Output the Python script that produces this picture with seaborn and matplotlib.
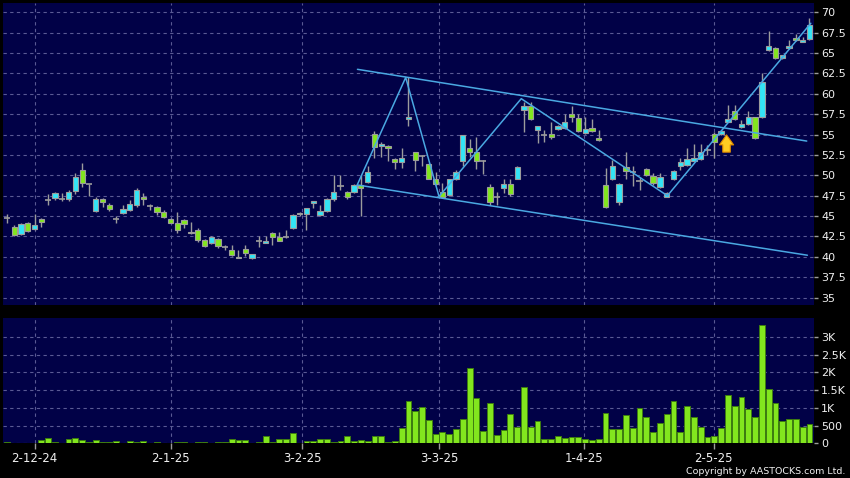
import numpy as np
import pandas as pd
import matplotlib
matplotlib.use("Agg")
import matplotlib.pyplot as plt
import seaborn as sns

# daily bars, oldest first (one entry per trading day)
opens = [44.8, 43.7, 42.8, 44.1, 43.4, 44.6, 47.0, 47.2, 47.1, 47.1,
         48.1, 50.7, 48.9, 45.6, 47.1, 46.3, 44.6, 45.4, 45.7, 46.3,
         47.3, 46.2, 46.1, 45.55, 44.6, 44.2, 44.5, 43.1, 43.3, 42.1,
         41.7, 42.2, 41.2, 40.8, 40.0, 41.0, 39.8, 42.0, 41.75, 42.9,
         42.4, 42.4, 43.5, 45.4, 45.2, 46.6, 45.1, 45.6, 47.15, 48.7,
         48.0, 47.9, 48.8, 49.2, 55.1, 53.6, 53.6, 52.0, 51.6, 56.9,
         52.8, 52.4, 51.4, 49.6, 47.9, 47.6, 49.5, 51.7, 53.4, 52.9,
         51.8, 48.6, 47.3, 48.5, 48.9, 49.6, 58.0, 58.45, 55.5, 55.0,
         55.1, 55.7, 55.8, 57.55, 57.05, 55.2, 55.8, 54.6, 48.85, 49.55,
         46.7, 51.0, 50.4, 49.3, 50.8, 49.9, 48.6, 47.4, 49.55, 51.2,
         51.3, 51.7, 52.0, 53.05, 55.1, 55.05, 56.6, 57.9, 55.9, 56.3,
         57.1, 57.1, 65.4, 65.6, 64.4, 65.6, 66.85, 66.4, 66.7]
highs = [45.3, 43.9, 44.1, 44.3, 45.2, 44.8, 47.7, 48.0, 47.8, 48.2,
         50.3, 51.5, 48.9, 47.4, 47.2, 46.6, 45.0, 46.3, 47.0, 48.4,
         47.8, 46.5, 46.2, 45.7, 44.8, 45.5, 44.6, 44.3, 43.6, 42.2,
         42.5, 42.3, 41.5, 41.5, 40.8, 41.4, 40.4, 42.5, 42.5, 43.0,
         43.1, 43.3, 45.2, 45.5, 46.0, 46.9, 46.4, 47.2, 50.05, 50.05,
         48.1, 48.9, 50.05, 51.1, 55.4, 54.1, 53.7, 52.1, 53.3, 62.0,
         52.9, 52.5, 51.5, 50.4, 49.0, 49.6, 50.7, 55.0, 54.5, 54.7,
         51.9, 48.9, 48.0, 49.5, 49.5, 51.1, 59.0, 59.0, 56.1, 55.5,
         56.5, 56.2, 57.5, 58.5, 57.5, 57.2, 56.9, 55.6, 50.9, 51.9,
         49.0, 52.9, 51.1, 49.8, 50.9, 50.3, 50.3, 47.9, 50.6, 52.1,
         53.3, 53.9, 53.9, 53.7, 55.3, 55.5, 58.6, 58.6, 56.8, 57.9,
         57.2, 62.5, 67.7, 65.7, 64.8, 66.6, 67.3, 67.0, 69.3]
lows = [44.2, 42.6, 42.7, 43.1, 43.3, 43.7, 46.4, 47.0, 46.8, 46.9,
        47.7, 48.6, 47.5, 45.5, 46.1, 45.6, 44.1, 45.3, 45.6, 46.1,
        46.3, 45.8, 45.1, 44.8, 44.1, 42.9, 43.6, 42.8, 41.8, 41.2,
        41.6, 41.1, 40.8, 40.1, 39.8, 40.1, 39.7, 41.2, 41.7, 41.5,
        41.9, 42.3, 43.4, 45.0, 43.3, 45.95, 45.0, 45.5, 46.8, 48.2,
        47.1, 47.8, 45.0, 49.1, 52.1, 52.2, 51.7, 50.8, 50.9, 56.0,
        50.5, 51.1, 49.5, 48.85, 47.3, 47.5, 49.4, 51.2, 52.3, 50.8,
        50.2, 46.4, 46.4, 47.8, 47.5, 49.5, 55.3, 56.8, 54.0, 54.1,
        54.5, 55.6, 55.7, 56.5, 55.3, 55.1, 55.3, 54.2, 46.0, 49.4,
        46.3, 49.5, 48.7, 48.2, 49.9, 48.8, 48.5, 47.3, 49.4, 50.7,
        51.2, 51.6, 51.9, 52.5, 52.1, 54.9, 56.5, 56.8, 55.8, 56.2,
        54.5, 57.0, 65.3, 64.3, 64.3, 65.5, 66.5, 66.3, 66.6]
closes = [44.8, 42.7, 44.0, 43.2, 43.9, 44.3, 47.0, 47.8, 47.1, 47.9,
          49.8, 49.1, 48.9, 47.1, 46.7, 45.9, 44.6, 45.9, 46.5, 48.2,
          47.1, 46.2, 45.5, 44.9, 44.2, 43.3, 44.0, 42.9, 42.1, 41.3,
          42.4, 41.3, 41.2, 40.2, 39.9, 40.5, 40.3, 42.0, 42.0, 42.4,
          42.0, 42.4, 45.1, 45.2, 45.95, 46.8, 45.6, 47.1, 47.9, 48.7,
          47.4, 48.8, 48.5, 50.4, 53.5, 53.8, 53.3, 51.6, 52.1, 57.1,
          51.9, 52.4, 49.6, 48.9, 47.4, 49.5, 50.45, 54.9, 52.8, 51.8,
          51.8, 46.7, 47.3, 48.9, 47.7, 51.0, 58.5, 56.9, 56.0, 55.0,
          54.7, 56.0, 56.6, 57.2, 55.4, 55.7, 55.4, 54.3, 46.15, 51.1,
          48.9, 50.5, 50.4, 49.3, 50.1, 49.1, 49.8, 47.8, 50.5, 51.6,
          52.0, 52.15, 52.8, 53.05, 54.1, 55.4, 56.9, 56.9, 56.3, 57.1,
          54.6, 61.5, 65.9, 64.4, 64.7, 65.9, 66.6, 66.6, 68.4]
volumes = [46, 20, 20, 20, 20, 83, 139, 37, 10, 111,
           148, 83, 46, 93, 28, 28, 56, 20, 74, 46,
           65, 10, 46, 5, 5, 28, 28, 10, 28, 28,
           10, 46, 46, 111, 83, 83, 10, 37, 204, 37,
           111, 111, 296, 15, 65, 65, 111, 111, 37, 65,
           194, 74, 83, 74, 194, 194, 28, 56, 444, 1194,
           898, 1018, 648, 263, 319, 263, 394, 675, 2110, 1266,
           347, 1126, 234, 375, 816, 450, 1595, 469, 619, 113,
           113, 206, 150, 188, 188, 131, 84, 122, 863, 403,
           403, 788, 441, 1004, 732, 328, 582, 825, 1200, 319,
           1041, 732, 450, 188, 216, 422, 1351, 1041, 1294, 966,
           741, 3320, 1520, 1144, 638, 685, 675, 460, 544]

date_labels = ["2-12-24", "2-1-25", "3-2-25", "3-3-25", "1-4-25", "2-5-25"]
date_pos = [4, 24, 43.4, 63.5, 84.8, 103.9]

price_ticks = [35, 37.5, 40, 42.5, 45, 47.5, 50, 52.5, 55, 57.5, 60, 62.5, 65, 67.5, 70]
vol_ticks = [0, 500, 1000, 1500, 2000, 2500, 3000]
vol_labels = ["0", "500", "1K", "1.5K", "2K", "2.5K", "3K"]

# drawn annotations, as (bar index, price)
upper_x, upper_y = [51.5, 117.6], [63.0, 54.2]
lower_x, lower_y = [51.6, 117.7], [48.8, 40.2]
zigzag_x = [51.4, 58.6, 63.5, 75.6, 97.1, 118.2]
zigzag_y = [48.7, 62.0, 47.4, 59.4, 47.5, 68.65]
arrow_x, arrow_lo, arrow_hi = 105.8, 52.5, 55.3

NAVY = "#010147"
GRID = "#5a5a94"
CYAN = "#33e4f6"
GREEN = "#82e61e"
WICK = "#9c9c9c"
LINE = "#4aa8e2"
TXT = "#f0f0f0"

sns.set_theme(style="dark")
plt.rcParams["font.family"] = ["DejaVu Sans"]

df = pd.DataFrame({"open": opens, "high": highs, "low": lows,
                   "close": closes, "volume": volumes})
df["idx"] = np.arange(len(df))

fig = plt.figure(figsize=(8.5, 4.78), dpi=100, facecolor="black")
ax = fig.add_axes([0.0039, 0.362, 0.954, 0.632])
vax = fig.add_axes([0.0039, 0.0726, 0.954, 0.2615])

for a in (ax, vax):
    a.set_facecolor(NAVY)
    for s in a.spines.values():
        s.set_visible(False)
    a.grid(True, color=GRID, ls=(0, (3, 3)), lw=0.8)
    a.set_axisbelow(True)

# candles
ax.vlines(df["idx"], df["low"], df["high"], color=WICK, lw=1, zorder=2)
up = df[df["close"] > df["open"]]
dn = df[df["close"] < df["open"]]
flat = df[df["close"] == df["open"]]
for sub, col in ((up, CYAN), (dn, GREEN)):
    ax.bar(sub["idx"], (sub["close"] - sub["open"]).abs(),
           bottom=sub[["open", "close"]].min(axis=1), width=0.78,
           color=col, edgecolor=WICK, lw=0.8, zorder=3)
ax.hlines(flat["close"], flat["idx"] - 0.45, flat["idx"] + 0.45,
          color=WICK, lw=1.2, zorder=3)

# trend lines and arrow
ax.plot(upper_x, upper_y, color=LINE, lw=1.1, zorder=4)
ax.plot(lower_x, lower_y, color=LINE, lw=1.1, zorder=4)
ax.plot(zigzag_x, zigzag_y, color=LINE, lw=1.1, zorder=4)
ax.annotate("", xy=(arrow_x, arrow_hi), xytext=(arrow_x, arrow_lo),
            arrowprops=dict(arrowstyle="simple,head_width=0.85,head_length=0.6,tail_width=0.45",
                            mutation_scale=12, fc="#ffcc22", ec="#e08a00", lw=0.8),
            zorder=5)

ax.set_xlim(-0.6, 118.7)
ax.set_ylim(34.1, 71.15)
ax.set_xticks(date_pos)
ax.set_yticks(price_ticks)
ax.set_yticklabels([f"{t:g}" for t in price_ticks])
ax.yaxis.tick_right()
ax.tick_params(axis="x", bottom=False, labelbottom=False)
ax.tick_params(axis="y", right=True, length=3, width=1, color=WICK,
               labelcolor=TXT, labelsize=8, pad=2)

# volume
sns.barplot(data=df, x="idx", y="volume", native_scale=True, width=0.86,
            color=GREEN, saturation=1, edgecolor="#3d7d10", linewidth=0.7,
            errorbar=None, ax=vax, zorder=3)
vax.set_xlim(-0.6, 118.7)
vax.set_ylim(0, 3520)
vax.set_xlabel("")
vax.set_ylabel("")
vax.set_xticks(date_pos)
vax.set_xticklabels(date_labels)
vax.set_yticks(vol_ticks)
vax.set_yticklabels(vol_labels)
vax.yaxis.tick_right()
vax.tick_params(axis="x", bottom=True, length=4, width=1, color=WICK,
                labelcolor=TXT, labelsize=8.5, pad=2)
vax.tick_params(axis="y", right=True, length=3, width=1, color=WICK,
                labelcolor=TXT, labelsize=8, pad=2)

fig.text(0.994, 0.0084, "Copyright by AASTOCKS.com Ltd.", color=TXT,
         fontsize=6.8, ha="right", va="baseline")

fig.savefig("out.png", dpi=100, facecolor="black")
